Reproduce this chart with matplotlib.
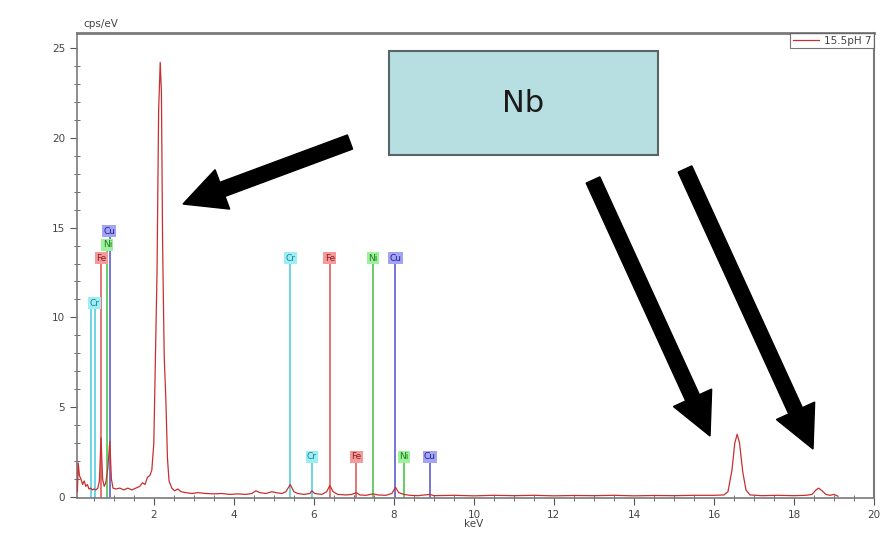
# EDS spectrum with Nb annotation
import numpy as np
import matplotlib.pyplot as plt
from matplotlib.patches import FancyArrow, Rectangle

# spectrum (keV, cps/eV)
energy = [0.09, 0.11, 0.14, 0.18, 0.22, 0.26, 0.30, 0.34, 0.38, 0.42, 0.46, 0.50,
          0.55, 0.60, 0.64, 0.68, 0.72, 0.76, 0.80, 0.85, 0.90, 0.94, 0.98, 1.05,
          1.15, 1.25, 1.35, 1.45, 1.55, 1.65, 1.72, 1.78, 1.84, 1.90, 1.95, 2.00,
          2.04, 2.08, 2.12, 2.16, 2.19, 2.22, 2.26, 2.30, 2.34, 2.38, 2.45, 2.52,
          2.60, 2.68, 2.80, 2.95, 3.10, 3.30, 3.50, 3.70, 3.90, 4.10, 4.30, 4.45,
          4.55, 4.65, 4.80, 4.95, 5.05, 5.20, 5.30, 5.41, 5.50, 5.60, 5.75, 5.90,
          5.95, 6.02, 6.20, 6.32, 6.40, 6.48, 6.60, 6.80, 6.95, 7.06, 7.15, 7.30,
          7.48, 7.60, 7.80, 7.95, 8.04, 8.12, 8.25, 8.40, 8.60, 8.90, 9.00, 9.50,
          10.0, 10.5, 11.0, 11.5, 12.0, 12.5, 13.0, 13.5, 14.0, 14.5, 15.0, 15.5,
          16.0, 16.25, 16.35, 16.45, 16.52, 16.58, 16.64, 16.72, 16.80, 16.90, 17.2, 17.6,
          18.0, 18.3, 18.45, 18.55, 18.62, 18.70, 18.80, 18.90, 19.00, 19.10]
counts = [0.3, 1.9, 1.2, 1.0, 0.7, 0.9, 0.6, 0.7, 0.45, 0.5, 0.4, 0.45,
          0.4, 0.5, 0.9, 3.3, 1.0, 0.6, 0.8, 1.6, 3.1, 1.0, 0.5, 0.45,
          0.5, 0.4, 0.5, 0.4, 0.5, 0.6, 0.8, 0.7, 1.1, 1.2, 1.5, 3.0,
          7.8, 12.5, 21.5, 24.2, 22.5, 14.0, 7.8, 5.5, 2.2, 0.9, 0.5, 0.35,
          0.45, 0.3, 0.25, 0.2, 0.25, 0.2, 0.18, 0.2, 0.15, 0.18, 0.15, 0.2,
          0.35, 0.25, 0.2, 0.3, 0.25, 0.2, 0.3, 0.7, 0.3, 0.2, 0.15, 0.2,
          0.35, 0.2, 0.15, 0.3, 0.65, 0.3, 0.15, 0.12, 0.15, 0.25, 0.12, 0.1,
          0.18, 0.12, 0.1, 0.2, 0.55, 0.25, 0.15, 0.1, 0.08, 0.15, 0.08, 0.1,
          0.07, 0.1, 0.08, 0.1, 0.07, 0.09, 0.08, 0.1, 0.07, 0.09, 0.08, 0.1,
          0.1, 0.12, 0.3, 1.5, 3.0, 3.5, 3.0, 1.4, 0.4, 0.12, 0.08, 0.1,
          0.08, 0.1, 0.15, 0.4, 0.5, 0.35, 0.15, 0.1, 0.15, 0.05]

# element marker lines: (label, energy keV, label height)
marker_elem = ['Cr', 'Cr', 'Fe', 'Ni', 'Cu',
               'Cr', 'Fe', 'Ni', 'Cu',
               'Cr', 'Fe', 'Ni', 'Cu']
marker_e = [0.44, 0.52, 0.67, 0.84, 0.91,
            5.41, 6.40, 7.47, 8.04,
            5.95, 7.06, 8.26, 8.90]
marker_h = [10.8, 10.8, 13.3, 14.05, 14.8,
            13.3, 13.3, 13.3, 13.3,
            2.25, 2.25, 2.25, 2.25]
# label positions for the L lines (they are shifted a bit)
label_e = [0.52, None, 0.69, 0.84, 0.88,
           5.41, 6.40, 7.47, 8.04,
           5.95, 7.06, 8.26, 8.90]
show_label = [True, False, True, True, True,
              True, True, True, True,
              True, True, True, True]

line_col = {'Cr': '#5fd3e0', 'Fe': '#e06a6a', 'Ni': '#5cc85c', 'Cu': '#6a6ad0'}
box_col = {'Cr': '#9beef5', 'Fe': '#f59a9a', 'Ni': '#9bf29b', 'Cu': '#a3a3f5'}
txt_col = {'Cr': '#1f7f8a', 'Fe': '#8a2020', 'Ni': '#207a20', 'Cu': '#20208a'}

fig = plt.figure(figsize=(8.81, 5.36), dpi=100)
ax = fig.add_axes([77/881, 1-498/536, 797/881, 465/536])

# marker stems and labels
for el, e, h, le, sh in zip(marker_elem, marker_e, marker_h, label_e, show_label):
    ax.plot([e, e], [0, h], color=line_col[el], lw=1.3, zorder=2)
    if sh:
        ax.text(le, h, el, fontsize=6.5, color=txt_col[el], ha='center', va='center',
                zorder=4, bbox=dict(boxstyle='square,pad=0.15', fc=box_col[el], ec='none'))

ax.plot(energy, counts, color='#c83030', lw=0.9, label='15.5pH 7', zorder=3)

ax.set_xlim(0.08, 20)
ax.set_ylim(-0.05, 25.83)
ax.set_xticks(np.arange(2, 21, 2))
ax.set_xticks(np.arange(0.5, 20, 0.5), minor=True)
ax.set_yticks(np.arange(0, 26, 5))
ax.set_yticks(np.arange(0, 26, 1), minor=True)
ax.tick_params(which='major', direction='out', length=5, width=0.8, colors='#555555',
               labelsize=7.5, labelcolor='#444444')
ax.tick_params(which='minor', direction='inout', length=4, width=0.6, colors='#555555')
for s in ax.spines.values():
    s.set_color('#7a7a7a')
ax.spines['top'].set_linewidth(2)
ax.spines['right'].set_linewidth(1.5)
ax.spines['left'].set_linewidth(1.2)
ax.spines['bottom'].set_linewidth(1.2)

ax.text(10, -1.5, 'keV', fontsize=7.5, color='#444444', ha='center', va='center')
ax.text(0.25, 26.05, 'cps/eV', fontsize=7.5, color='#444444', ha='left', va='bottom')

leg = ax.legend(loc='upper right', fontsize=7.5, frameon=True, fancybox=False,
                borderaxespad=0, handlelength=2.5, borderpad=0.25, handletextpad=0.5)
leg.get_frame().set_edgecolor('#555555')
leg.get_frame().set_linewidth(0.8)
for t in leg.get_texts():
    t.set_color('#444444')

# overlay in image pixels for the annotation box and arrows
ov = fig.add_axes([0, 0, 1, 1])
ov.set_xlim(0, 881)
ov.set_ylim(536, 0)
ov.axis('off')
ov.patch.set_alpha(0)

ov.add_patch(Rectangle((389, 51), 269, 104, fc='#b7dfe2', ec='#5a6466', lw=1.5))
ov.text(523, 103, 'Nb', fontsize=22, color='#1a1a1a', ha='center', va='center')

arrows = [((350, 142), (183, 204)),
          ((593, 180), (710, 436)),
          ((685, 169), (813, 449))]
for (x0, y0), (x1, y1) in arrows:
    ov.add_patch(FancyArrow(x0, y0, x1 - x0, y1 - y0, width=15, head_width=42,
                            head_length=42, length_includes_head=True,
                            fc='black', ec='black'))

plt.savefig('out.png', dpi=100)
